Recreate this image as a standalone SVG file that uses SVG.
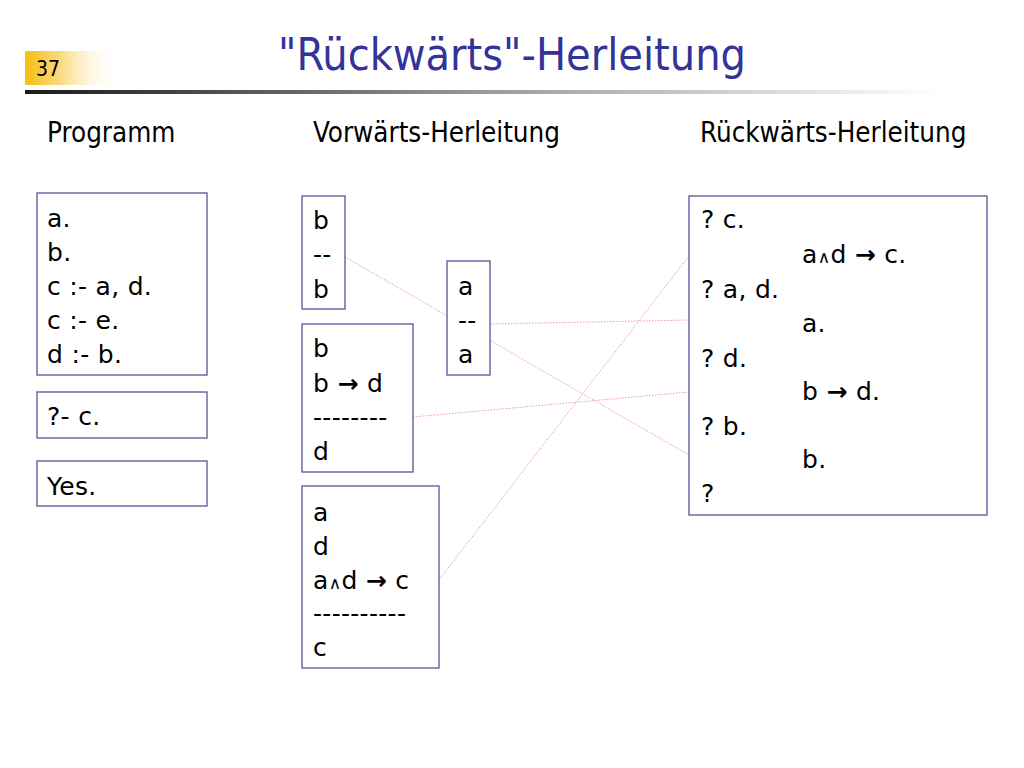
<svg xmlns="http://www.w3.org/2000/svg" width="1024" height="768" viewBox="0 0 1024 768">
<defs>
<linearGradient id="numGrad" x1="0" y1="0" x2="1" y2="0">
<stop offset="0" stop-color="#f5c010"/>
<stop offset="0.35" stop-color="#f9d878"/>
<stop offset="1" stop-color="#ffffff" stop-opacity="0"/>
</linearGradient>
<linearGradient id="lineGrad" x1="0" y1="0" x2="1" y2="0">
<stop offset="0" stop-color="#1a1a1a"/>
<stop offset="0.5" stop-color="#9a9a9a"/>
<stop offset="1" stop-color="#ffffff"/>
</linearGradient>
</defs>
<style>
text{font-family:"Tahoma","DejaVu Sans Condensed","DejaVu Sans",sans-serif;fill:#000}
.title{font-size:44.5px;fill:#333399}
.num{font-size:21px}
.head{font-size:27.5px}
.body{font-family:"Tahoma","DejaVu Sans",sans-serif;font-size:25px;letter-spacing:0.3px}
.box{fill:#fff;stroke:#55559a;stroke-width:1.3}
.conn{stroke:#ee9aa6;stroke-width:1;stroke-dasharray:1.5 1.5;fill:none}
.small{font-size:17px}
.arr{font-weight:bold}
</style>
<rect width="1024" height="768" fill="#fff"/>
<g id="header">
<rect x="25" y="51" width="95" height="34" fill="url(#numGrad)"/>
<text class="num" x="36" y="76">37</text>
<text class="title" x="512" y="70" text-anchor="middle">"Rückwärts"-Herleitung</text>
<rect x="25" y="90" width="915" height="4" fill="url(#lineGrad)"/>
<text class="head" x="47" y="142">Programm</text>
<text class="head" x="313" y="142">Vorwärts-Herleitung</text>
<text class="head" x="700" y="142">Rückwärts-Herleitung</text>
</g>
<g id="connectors">
<line class="conn" x1="345" y1="257" x2="689" y2="455"/>
<line class="conn" x1="490" y1="324" x2="689" y2="320"/>
<line class="conn" x1="413" y1="417" x2="689" y2="392"/>
<line class="conn" x1="439" y1="580" x2="689" y2="256"/>
</g>
<g id="programm">
<rect class="box" x="37" y="193" width="170" height="182"/>
<text class="body" x="47" y="227">a.</text>
<text class="body" x="47" y="261">b.</text>
<text class="body" x="47" y="295">c :- a, d.</text>
<text class="body" x="47" y="329">c :- e.</text>
<text class="body" x="47" y="363">d :- b.</text>
</g>
<g id="query">
<rect class="box" x="37" y="392" width="170" height="46"/>
<text class="body" x="47" y="425">?- c.</text>
</g>
<g id="answer">
<rect class="box" x="37" y="461" width="170" height="45"/>
<text class="body" x="47" y="495">Yes.</text>
</g>
<g id="fwd-b">
<rect class="box" x="302" y="196" width="43" height="113"/>
<text class="body" x="313" y="229">b</text>
<text class="body" x="313" y="263">--</text>
<text class="body" x="313" y="298">b</text>
</g>
<g id="fwd-a">
<rect class="box" x="447" y="261" width="43" height="114"/>
<text class="body" x="458" y="295">a</text>
<text class="body" x="458" y="329">--</text>
<text class="body" x="458" y="363">a</text>
</g>
<g id="fwd-d">
<rect class="box" x="302" y="324" width="111" height="148"/>
<text class="body" x="313" y="357">b</text>
<text class="body" x="313" y="392">b <tspan class="arr">→</tspan> d</text>
<text class="body" x="313" y="426">--------</text>
<text class="body" x="313" y="460">d</text>
</g>
<g id="fwd-c">
<rect class="box" x="302" y="486" width="137" height="182"/>
<text class="body" x="313" y="521">a</text>
<text class="body" x="313" y="555">d</text>
<text class="body" x="313" y="589">a<tspan class="small">∧</tspan>d <tspan class="arr">→</tspan> c</text>
<text class="body" x="313" y="622">----------</text>
<text class="body" x="313" y="656">c</text>
</g>
<g id="backward">
<rect class="box" x="689" y="196" width="298" height="319"/>
<text class="body" x="701" y="228">? c.</text>
<text class="body" x="802" y="263">a<tspan class="small">∧</tspan>d <tspan class="arr">→</tspan> c.</text>
<text class="body" x="701" y="298">? a, d.</text>
<text class="body" x="802" y="332">a.</text>
<text class="body" x="701" y="367">? d.</text>
<text class="body" x="802" y="400">b <tspan class="arr">→</tspan> d.</text>
<text class="body" x="701" y="435">? b.</text>
<text class="body" x="802" y="468">b.</text>
<text class="body" x="701" y="502">?</text>
</g>
</svg>
